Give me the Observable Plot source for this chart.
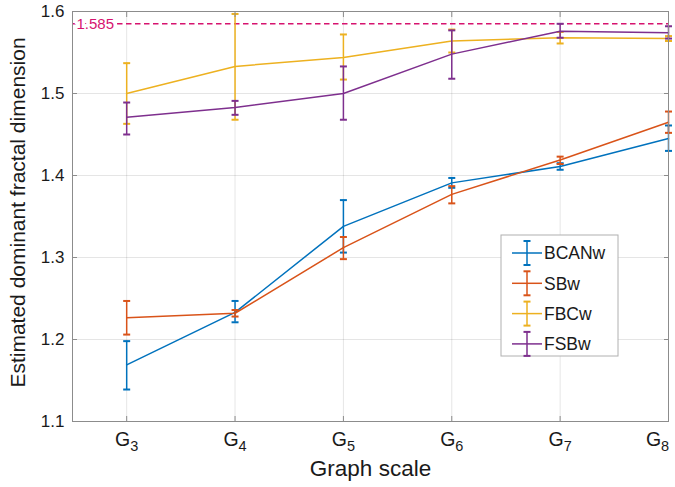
<!DOCTYPE html>
<html><head><meta charset="utf-8">
<script src="https://cdn.jsdelivr.net/npm/d3@7"></script>
<script src="https://cdn.jsdelivr.net/npm/@observablehq/plot@0.6"></script>
<style>body{margin:0;background:#fff}#chart{width:675px;height:487px}</style>
</head><body><div id="chart"></div>
<script>
const scales = [3, 4, 5, 6, 7, 8];
const yTicks = [1.1, 1.2, 1.3, 1.4, 1.5, 1.6];
const seriesNames = ["BCANw", "SBw", "FBCw", "FSBw"];
const colors = ["#0072BD", "#D95319", "#EDB120", "#7E2F8E"];
const refValue = 1.585;

const bcanMean = [1.169, 1.233, 1.338, 1.391, 1.411, 1.445];
const bcanLo   = [1.139, 1.221, 1.306, 1.385, 1.407, 1.430];
const bcanHi   = [1.198, 1.247, 1.370, 1.397, 1.415, 1.461];

const sbMean = [1.2265, 1.232, 1.312, 1.377, 1.419, 1.465];
const sbLo   = [1.206, 1.228, 1.298, 1.366, 1.414, 1.452];
const sbHi   = [1.247, 1.236, 1.325, 1.387, 1.423, 1.478];

const fbcMean = [1.500, 1.533, 1.544, 1.564, 1.568, 1.567];
const fbcLo   = [1.463, 1.468, 1.517, 1.550, 1.561, 1.564];
const fbcHi   = [1.537, 1.597, 1.572, 1.578, 1.575, 1.570];

const fsbMean = [1.471, 1.483, 1.500, 1.548, 1.576, 1.574];
const fsbLo   = [1.450, 1.474, 1.468, 1.518, 1.568, 1.567];
const fsbHi   = [1.489, 1.491, 1.533, 1.577, 1.585, 1.582];

const allMean = [bcanMean, sbMean, fbcMean, fsbMean];
const allLo = [bcanLo, sbLo, fbcLo, fsbLo];
const allHi = [bcanHi, sbHi, fbcHi, fsbHi];

const seriesData = seriesNames.map((name, s) =>
  scales.map((g, i) => ({series: name, g, mean: allMean[s][i], lo: allLo[s][i], hi: allHi[s][i]})));

const cap = {draw(ctx, size) { const r = Math.sqrt(size / Math.PI); ctx.moveTo(-r, 0); ctx.lineTo(r, 0); }};
const font = "Liberation Sans, Arial, Helvetica, sans-serif";
const refColor = "#d6136f";

const seriesMarks = seriesData.flatMap((d, s) => [
  Plot.line(d, {x: "g", y: "mean", stroke: colors[s], strokeWidth: 1.5}),
  Plot.ruleX(d, {x: "g", y1: "lo", y2: "hi", stroke: colors[s], strokeWidth: 1.5}),
  Plot.dot(d, {x: "g", y: "lo", symbol: cap, r: 3.5, stroke: colors[s], fill: "none", strokeWidth: 2}),
  Plot.dot(d, {x: "g", y: "hi", symbol: cap, r: 3.5, stroke: colors[s], fill: "none", strokeWidth: 2})
]);

const chart = Plot.plot({
  width: 675, height: 487,
  marginLeft: 72, marginRight: 7, marginTop: 11, marginBottom: 66,
  style: {fontFamily: font, fontSize: "17px", background: "#fff", color: "#262626"},
  x: {domain: [2.5, 8], ticks: scales},
  y: {domain: [1.1, 1.6], ticks: yTicks},
  marks: [
    Plot.gridX(scales, {stroke: "#000", strokeOpacity: 0.1}),
    Plot.gridY(yTicks, {stroke: "#000", strokeOpacity: 0.1}),
    Plot.ruleY([refValue], {stroke: refColor, strokeWidth: 1.4, strokeDasharray: "5.5,3.5"}),
    Plot.text([refValue], {y: d => d, frameAnchor: "left", dx: 4, textAnchor: "start", text: d => d.toFixed(3),
      fill: refColor, stroke: "white", strokeWidth: 7, paintOrder: "stroke", fontSize: 15}),
    ...seriesMarks,
    Plot.frame({stroke: "#8c8c8c"}),
    Plot.axisX(scales, {anchor: "bottom", tickSize: -5, tickFormat: () => "", label: null, stroke: "#8c8c8c"}),
    Plot.axisX(scales, {anchor: "top", tickSize: -5, tickFormat: () => "", label: null, stroke: "#8c8c8c"}),
    Plot.axisY(yTicks, {anchor: "left", tickSize: -5, tickFormat: () => "", label: null, stroke: "#8c8c8c"}),
    Plot.axisY(yTicks, {anchor: "right", tickSize: -5, tickFormat: () => "", label: null, stroke: "#8c8c8c"}),
    Plot.axisX(scales, {anchor: "bottom", tickSize: 0, tickPadding: 11, tickFormat: d => "G" + d, label: null, fontSize: 19.5, fill: "#1a1a1a"}),
    Plot.axisY(yTicks, {anchor: "left", tickSize: 0, tickPadding: 8, tickFormat: d => d.toFixed(1), label: null, fontSize: 17, fill: "#1a1a1a"}),
    Plot.text(["Graph scale"], {frameAnchor: "bottom", dy: 54.5, fontSize: 22.5, fill: "#1a1a1a"}),
    Plot.text(["Estimated dominant fractal dimension"], {frameAnchor: "left", textAnchor: "middle", dx: -54, dy: -4, rotate: -90, fontSize: 21, fill: "#1a1a1a"})
  ]
});
document.getElementById("chart").appendChild(chart);

// subscripts for G tick labels
const tickTexts = d3.select(chart).selectAll('g[aria-label="x-axis tick label"] text').nodes()
  .filter(n => n.textContent.startsWith("G"));
tickTexts.forEach((node, i) => {
  const t = node.textContent;
  const sel = d3.select(node);
  sel.text("G");
  sel.append("tspan").attr("font-size", "14.5").attr("dy", "4.5").text(t.slice(1));
  if (i === tickTexts.length - 1) sel.attr("dx", -11);
});

// legend
const svg = d3.select(chart);
const lg = svg.append("g").attr("transform", "translate(501,235)").style("font-family", font);
lg.append("rect").attr("width", 117).attr("height", 121).attr("fill", "white").attr("stroke", "#b0b0b0").attr("stroke-width", 1);
seriesNames.forEach((name, i) => {
  const cy = 18 + i * 30.3;
  const g = lg.append("g").attr("transform", `translate(0,${cy})`);
  g.append("line").attr("x1", 11).attr("x2", 41).attr("y1", 0).attr("y2", 0).attr("stroke", colors[i]).attr("stroke-width", 1.5);
  g.append("line").attr("x1", 26).attr("x2", 26).attr("y1", -12).attr("y2", 12).attr("stroke", colors[i]).attr("stroke-width", 1.5);
  g.append("line").attr("x1", 22.5).attr("x2", 29.5).attr("y1", -12).attr("y2", -12).attr("stroke", colors[i]).attr("stroke-width", 2);
  g.append("line").attr("x1", 22.5).attr("x2", 29.5).attr("y1", 12).attr("y2", 12).attr("stroke", colors[i]).attr("stroke-width", 2);
  g.append("text").attr("x", 43).attr("y", 0).attr("dy", "0.36em").attr("text-anchor", "start")
    .attr("font-size", 17.5).attr("fill", "#1a1a1a").text(name);
});
</script></body></html>
